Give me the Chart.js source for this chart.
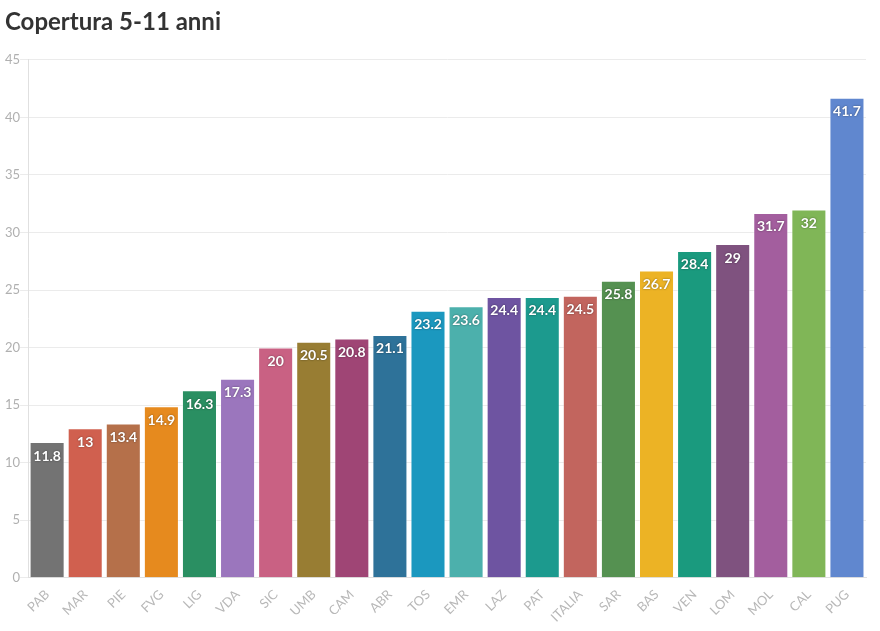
<!DOCTYPE html>
<html>
<head>
<meta charset="utf-8">
<script src="https://cdn.jsdelivr.net/npm/chart.js@4"></script>
<style>
  html, body { margin: 0; padding: 0; background: #fff; }
  #wrap { width: 880px; height: 631px; }
</style>
</head>
<body>
<div id="wrap"><canvas id="chart"></canvas></div>
<script>
const regions = ["PAB", "MAR", "PIE", "FVG", "LIG", "VDA", "SIC", "UMB", "CAM", "ABR", "TOS",
    "EMR", "LAZ", "PAT", "ITALIA", "SAR", "BAS", "VEN", "LOM", "MOL", "CAL", "PUG"];
const coverage = [11.8, 13, 13.4, 14.9, 16.3, 17.3, 20, 20.5, 20.8, 21.1, 23.2,
    23.6, 24.4, 24.4, 24.5, 25.8, 26.7, 28.4, 29, 31.7, 32, 41.7];
const barColors = ["#737373", "#d0604f", "#b5704a", "#e68a1e", "#2a8f62", "#9b76bd", "#c96183",
    "#987d33", "#9f4575", "#2e7299", "#1b98bf", "#4cb0ac", "#6e54a1", "#1c9a8e", "#c2655e",
    "#559151", "#ecb325", "#1a9a7e", "#7f527f", "#a35e9e", "#80b657", "#6087cf"];
const yTicks = [0, 5, 10, 15, 20, 25, 30, 35, 40, 45];

// Etichette dei valori dentro le barre
const valueLabels = {
    id: "valueLabels",
    afterDatasetsDraw(chart) {
        const ctx = chart.ctx;
        const meta = chart.getDatasetMeta(0);
        ctx.save();
        ctx.font = "bold 14px Lato";
        ctx.textAlign = "center";
        ctx.textBaseline = "middle";
        ctx.fillStyle = "#fff";
        ctx.shadowColor = "rgba(0,0,0,0.5)";
        ctx.shadowBlur = 2;
        meta.data.forEach((bar, i) => {
            ctx.fillText(String(coverage[i]), bar.x, bar.y + 14);
        });
        ctx.restore();
    }
};

new Chart(document.getElementById("chart"), {
    type: "bar",
    data: {
        labels: regions,
        datasets: [{
            data: coverage,
            backgroundColor: barColors,
            borderColor: "rgba(255,255,255,0.35)",
            borderWidth: 1,
            barPercentage: 0.92,
            categoryPercentage: 1
        }]
    },
    options: {
        responsive: true,
        maintainAspectRatio: false,
        animation: false,
        layout: { padding: { left: 5, right: 14, top: 0, bottom: 3 } },
        plugins: {
            legend: { display: false },
            tooltip: { enabled: false },
            title: {
                display: true,
                text: "Copertura 5-11 anni",
                align: "start",
                color: "#333",
                font: { family: "Lato", size: 24, weight: "bold" },
                padding: { top: 8, bottom: 23 }
            }
        },
        scales: {
            x: {
                grid: { display: false, drawTicks: true, tickLength: 6 },
                border: { color: "#e0e0e0" },
                ticks: {
                    color: "#b8b8b8",
                    font: { family: "Lato", size: 13 },
                    maxRotation: 45,
                    minRotation: 45,
                    padding: 3
                }
            },
            y: {
                min: 0,
                max: 45,
                afterBuildTicks: axis => { axis.ticks = yTicks.map(v => ({ value: v })); },
                grid: { color: "#ebebeb", tickLength: 8 },
                border: { color: "#e0e0e0" },
                ticks: {
                    color: "#b0b0b0",
                    font: { family: "Lato", size: 13 },
                    padding: 0
                }
            }
        }
    },
    plugins: [valueLabels]
});
</script>
</body>
</html>
